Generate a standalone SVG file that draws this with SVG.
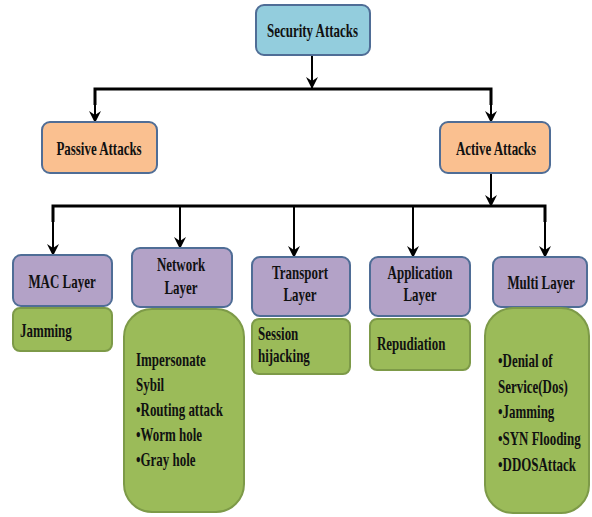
<svg xmlns="http://www.w3.org/2000/svg" width="592" height="517" viewBox="0 0 592 517">
<defs>
<marker id="ah" markerWidth="12" markerHeight="14" refX="11" refY="7" orient="auto" markerUnits="userSpaceOnUse">
<path d="M0,1 L12,7 L0,13 L4,7 z" fill="#000"/>
</marker>
<style>
.t{font-family:"Liberation Serif","Times New Roman",serif;font-weight:bold;font-size:18px;fill:#111;}
.c{text-anchor:middle;}
.blue{fill:#93CDDD;stroke:#4F6D96;stroke-width:2;}
.orange{fill:#FAC090;stroke:#4F6D96;stroke-width:2;}
.purple{fill:#B3A2C7;stroke:#4F6D96;stroke-width:2;}
.green{fill:#9BBB59;stroke:#7D9A48;stroke-width:2;}
.line{stroke:#000;stroke-width:3;fill:none;}
.arr{stroke:#000;stroke-width:2;fill:none;marker-end:url(#ah);}
</style>
</defs>
<rect width="592" height="517" fill="#fff"/>

<g id="connectors">
<line class="arr" x1="312" y1="55" x2="312" y2="88"/>
<polyline class="line" points="95,105 95,89 491,89 491,105"/>
<line class="arr" x1="95" y1="100" x2="95" y2="122"/>
<line class="arr" x1="491" y1="100" x2="491" y2="122"/>
<line class="arr" x1="491" y1="173" x2="491" y2="206"/>
<polyline class="line" points="53,222 53,206 545,206 545,222"/>
<line class="arr" x1="53" y1="215" x2="53" y2="255"/>
<line class="arr" x1="180" y1="206" x2="180" y2="248"/>
<line class="arr" x1="294" y1="206" x2="294" y2="257"/>
<line class="arr" x1="413" y1="206" x2="413" y2="257"/>
<line class="arr" x1="545" y1="215" x2="545" y2="257"/>
</g>

<g id="security-attacks">
<rect class="blue" x="256" y="5" width="114" height="50" rx="8"/>
<text class="t c" transform="translate(312.5,37) scale(0.72,1)">Security Attacks</text>
</g>

<g id="passive-attacks">
<rect class="orange" x="42" y="122" width="115" height="51" rx="8"/>
<text class="t c" transform="translate(99,155) scale(0.72,1)">Passive Attacks</text>
</g>

<g id="active-attacks">
<rect class="orange" x="440" y="122" width="110" height="51" rx="8"/>
<text class="t c" transform="translate(496,155) scale(0.72,1)">Active Attacks</text>
</g>

<g id="mac-layer">
<rect class="purple" x="13" y="255" width="99" height="51" rx="8"/>
<text class="t c" transform="translate(62,288) scale(0.72,1)">MAC Layer</text>
</g>
<g id="mac-attacks">
<rect class="green" x="13" y="308" width="99" height="43" rx="7"/>
<text class="t" transform="translate(20,337) scale(0.72,1)">Jamming</text>
</g>

<g id="network-layer">
<rect class="purple" x="132" y="248" width="100" height="59" rx="8"/>
<text class="t c" transform="translate(181,271) scale(0.72,1)">Network</text>
<text class="t c" transform="translate(181,294) scale(0.72,1)">Layer</text>
</g>
<g id="network-attacks">
<rect class="green" x="124" y="309" width="120" height="203" rx="28"/>
<text class="t" transform="translate(136,366) scale(0.72,1)">Impersonate</text>
<text class="t" transform="translate(136,391) scale(0.72,1)">Sybil</text>
<text class="t" transform="translate(136,416) scale(0.72,1)">•Routing attack</text>
<text class="t" transform="translate(136,441) scale(0.72,1)">•Worm hole</text>
<text class="t" transform="translate(136,466) scale(0.72,1)">•Gray hole</text>
</g>

<g id="transport-layer">
<rect class="purple" x="252" y="257" width="98" height="59" rx="8"/>
<text class="t c" transform="translate(300,279) scale(0.72,1)">Transport</text>
<text class="t c" transform="translate(300,301) scale(0.72,1)">Layer</text>
</g>
<g id="transport-attacks">
<rect class="green" x="252" y="319" width="98" height="55" rx="7"/>
<text class="t" transform="translate(258,340) scale(0.72,1)">Session</text>
<text class="t" transform="translate(258,362) scale(0.72,1)">hijacking</text>
</g>

<g id="application-layer">
<rect class="purple" x="370" y="257" width="100" height="59" rx="8"/>
<text class="t c" transform="translate(420,279) scale(0.72,1)">Application</text>
<text class="t c" transform="translate(420,301) scale(0.72,1)">Layer</text>
</g>
<g id="application-attacks">
<rect class="green" x="370" y="319" width="100" height="51" rx="7"/>
<text class="t" transform="translate(377,350) scale(0.72,1)">Repudiation</text>
</g>

<g id="multi-layer">
<rect class="purple" x="493" y="257" width="94" height="50" rx="8"/>
<text class="t c" transform="translate(541,289) scale(0.72,1)">Multi Layer</text>
</g>
<g id="multi-attacks">
<rect class="green" x="485" y="308" width="104" height="205" rx="28"/>
<text class="t" transform="translate(498,367) scale(0.72,1)">•Denial of</text>
<text class="t" transform="translate(498,393) scale(0.72,1)">Service(Dos)</text>
<text class="t" transform="translate(498,418) scale(0.72,1)">•Jamming</text>
<text class="t" transform="translate(498,445) scale(0.72,1)">•SYN Flooding</text>
<text class="t" transform="translate(498,471) scale(0.72,1)">•DDOSAttack</text>
</g>
</svg>
